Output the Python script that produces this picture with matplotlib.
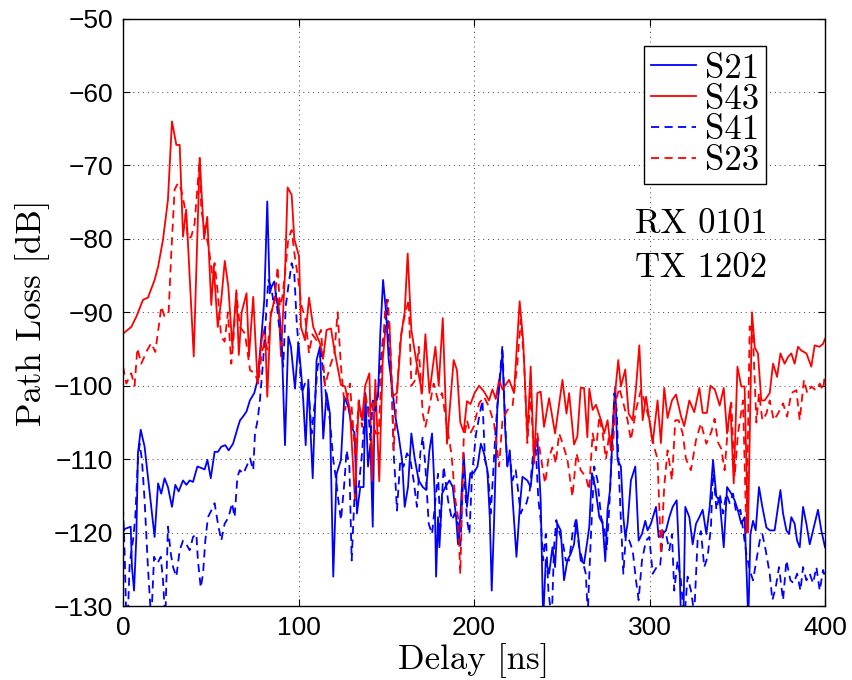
import matplotlib
matplotlib.use('Agg')
import matplotlib.pyplot as plt

# values (delay in ns, path loss in dB)
s21_t = [0, 1, 4.4, 5.1, 6.3, 7.6, 8.5, 10.1, 12.3, 14.6, 18, 20, 21.8, 23.7, 25.6, 27.9, 29.8, 31.7,
         34.2, 36.1, 38, 39.9, 42.4, 44.6, 46.5, 48.1, 50, 52.2, 54.1, 56, 58.3, 60.2, 62.7, 65.5,
         66.7, 68.4, 70.4, 72.3, 74.8, 76.7, 79, 80.5, 82.2, 83.6, 84.7, 86.2, 87.5, 89.1, 90.4,
         92.3, 94.2, 95.7, 98, 99.9, 101.4, 102.7, 104.1, 105.6, 107, 108.1, 110.3, 112.2, 114.1,
         116, 117.9, 119.8, 121.7, 124.2, 126.1, 128.4, 130.3, 132, 133.3, 135.2, 137.1, 138.1,
         139.6, 141, 142.3, 143.4, 145.3, 146.6, 148.2, 149.9, 151.4, 153.3, 155.2, 157.1, 159,
         160.5, 162.4, 164.3, 166.2, 168.5, 170.8, 172.7, 174.6, 176.1, 177.6, 178.4, 179.5, 180.3,
         181.8, 183.7, 186, 187.9, 189.8, 190.9, 192.2, 194.1, 196, 197.9, 199.8, 202, 203.9, 205.7,
         207.6, 209, 210.1, 211.4, 213.3, 214.7, 216.2, 217.7, 219, 220.4, 221.9, 224.2, 226.1,
         227.6, 230.4, 232.3, 234.2, 236.1, 238, 239.4, 240.9, 242.8, 244.7, 246.2, 247.5, 249.4,
         251.3, 253.2, 255.1, 257, 258.4, 260.8, 262.7, 264.6, 265.7, 267.2, 269.1, 271.4, 273.3,
         274.8, 276.1, 277.5, 279, 280.5, 281.8, 283.7, 285.1, 286.2, 287.5, 289.4, 291.9, 293.8,
         295.7, 297.6, 298.9, 300.8, 303.7, 305.2, 307.5, 309.4, 311.3, 313.2, 315.5, 317, 318,
         319.3, 320.4, 322.7, 324.6, 326.5, 328.4, 330.3, 332.4, 334.3, 336.2, 338.1, 340, 342.3,
         344.2, 346.6, 348.5, 350.4, 352.3, 354.2, 355.2, 356.3, 357.5, 359, 360.5, 362.4, 364.3,
         366.6, 368.5, 371.3, 372.7, 374.6, 376.1, 378, 379.5, 380.8, 382.7, 384.1, 385.6, 387.5,
         389.4, 391.3, 393.6, 396, 397.9, 400]
s21_db = [-120, -119.5, -119.2, -124.7, -127.9, -120.6, -109.2, -106, -108.3, -113.3, -120.6, -113.3,
          -114.7, -112.6, -113.8, -116.5, -113.5, -114.4, -112.9, -113.5, -112.9, -113.1, -111,
          -111.2, -111.4, -110.1, -112.6, -109, -109, -108.3, -108.1, -108.8, -107.9, -105.6,
          -104.7, -104.2, -103.5, -102, -101, -99.2, -92.9, -88.3, -74.9, -87.4, -86.5, -85.8,
          -88.3, -90.1, -93.8, -108.1, -93.3, -94.7, -100.4, -94.2, -97.9, -102, -108.1, -99.2,
          -106.9, -112.6, -96.5, -94.7, -107.2, -101, -103.8, -126, -112, -110.1, -101.5, -102.9,
          -105.6, -106.5, -117.4, -113.8, -113.8, -101, -111, -107.9, -119.2, -102, -101.5, -92.9,
          -85.6, -90, -96.5, -100.1, -104.2, -106.9, -110.1, -116.5, -113.8, -106.5, -109.9,
          -112.9, -113.8, -114.2, -108.8, -106.5, -114.7, -126, -117.9, -122, -114.7, -113.8,
          -112.9, -113.8, -117.9, -121.6, -117.9, -109.2, -116.5, -111.9, -111.9, -111, -107.9,
          -109.2, -111.5, -117.9, -127.9, -118.8, -102.9, -99.2, -95.6, -105.6, -111, -108.8,
          -115.1, -123.3, -116.5, -112.4, -112.9, -113.8, -109.2, -107.2, -115.6, -132, -123.7,
          -125.6, -122, -124.7, -118.8, -119.7, -126.5, -123.8, -122.9, -121.6, -118.3, -123.8,
          -124.2, -121.1, -119.2, -111.9, -113.8, -117.9, -118.8, -123.9, -116.9, -114.2, -106.5,
          -100.2, -110.1, -111, -117.9, -120.6, -118.8, -112.9, -111, -121.1, -120.2, -118.4,
          -119.7, -118.8, -116.5, -120.6, -120.2, -119.7, -117.9, -116.5, -115.6, -123.9, -132,
          -132, -116.5, -117.9, -121.6, -118.8, -117.9, -116.9, -120.2, -116.5, -110.1, -115.1,
          -115.6, -122, -113.8, -114.7, -115.6, -117, -118.8, -117.9, -124.7, -132, -120.2,
          -118.4, -119.7, -113.8, -116.5, -119.3, -119.7, -119.7, -117.4, -114.2, -117.4, -119.7,
          -120.2, -117.9, -118.8, -121.1, -122, -116.5, -118.8, -121.6, -119.3, -116.9, -119.7,
          -122]

s43_t = [0, 4.7, 7.6, 11.4, 14.2, 18, 20, 22.8, 25.6, 27.9, 30.4, 32.3, 34.2, 36, 37, 40.3, 43.7,
         46.2, 48, 50.3, 51.7, 54, 56, 58, 60, 62.3, 64.6, 66, 67.6, 70.4, 71.8, 74.2, 76.7, 79,
         80.9, 82.2, 84.1, 86.6, 88.5, 90, 92.3, 93.8, 96.1, 97.6, 100.3, 101.4, 103.7, 106, 108.4,
         112.2, 114.1, 116, 118.5, 120.8, 124.2, 126.5, 129.3, 132.2, 134.3, 136.2, 138, 140.4,
         141.9, 143.8, 146, 148, 149.5, 151.8, 153.3, 156.1, 158.6, 160.5, 162.2, 164.3, 167,
         170.4, 172.3, 174.6, 178, 179.9, 182.2, 184.6, 188.4, 190.3, 192.2, 194.1, 196, 198,
         200.3, 202.9, 205.7, 208.6, 210.5, 212.4, 214.3, 216.2, 220, 222.8, 226, 228, 230.4,
         232.3, 234.2, 236.1, 238, 239.9, 242.8, 246.2, 250.4, 252.7, 254.2, 257, 258.9, 260.8,
         262.7, 264.6, 265.7, 267.6, 269.5, 272.4, 274.2, 276.1, 278, 280, 282.2, 283.7, 286.2,
         288.1, 290.4, 292.3, 294.2, 296.1, 298, 299.9, 301.8, 304.6, 306.5, 308.4, 310.3, 312.8,
         315.1, 318, 319.8, 322.7, 325.5, 328.4, 330.3, 332.7, 334.7, 337.2, 340, 342.3, 344.2,
         346.1, 348, 350.1, 352.3, 354.2, 356.1, 358.4, 360, 361.8, 363.7, 365.6, 368.5, 370.4,
         372.7, 374.6, 377, 378.9, 380.8, 382.7, 384.6, 386.5, 389.4, 392.2, 394.1, 396.9, 398.9,
         400]
s43_db = [-92.9, -92, -90.6, -88.3, -88, -85.6, -83.8, -80.1, -74.7, -64, -67.2, -67.2, -79.7, -76,
          -80.5, -96, -69, -80, -77, -89, -83.8, -92, -88.3, -83, -86.5, -94.7, -87, -95.8, -90,
          -87.4, -96, -87.9, -99.7, -93.8, -92, -101.5, -90.6, -87.9, -88.3, -96, -84.7, -73, -74,
          -80, -82.4, -92, -93.8, -88, -92, -94.2, -96.2, -92.4, -92.2, -95.6, -99.9, -100.1,
          -103.3, -115.6, -102, -104.7, -100, -98.3, -112.9, -99.2, -113, -96.5, -92.4, -91.5,
          -101.5, -101, -92.9, -90, -82, -92.4, -96.5, -101, -93, -101, -94.7, -100, -90.8,
          -107.9, -96.5, -97.9, -105, -106.3, -102.1, -102.5, -101, -100, -100.8, -102, -100.5,
          -101.8, -99.2, -100.5, -99.2, -101, -88.5, -93.8, -107, -97.4, -110.6, -101, -100.8,
          -105.6, -101.7, -106.5, -99.2, -103.8, -101, -108, -106.9, -100.3, -100.3, -107, -100.4,
          -103.3, -102.6, -104.7, -106.5, -104.7, -108.8, -102, -96.5, -100.1, -97.8, -103.8,
          -104.7, -100.3, -94.5, -104.7, -101.5, -104.7, -107.8, -102, -107.8, -100.3, -104.4,
          -102, -101.2, -104.2, -105.5, -102, -103.6, -100.3, -103.7, -103.7, -100, -100.5,
          -102.7, -100.3, -106.5, -102.7, -113.3, -97.4, -100.1, -100.1, -120, -90, -94.8, -95.6,
          -102, -102, -101, -97, -98.8, -95.6, -97, -96.1, -95.6, -97, -94.7, -95.2, -95.6, -97.4,
          -94.5, -94.7, -94.3, -93.6]

s41_t = [0, 0.9, 1.9, 2.9, 3.8, 5.7, 7, 8.5, 9.5, 10.8, 12.3, 14.2, 16.1, 17.7, 19.6, 21.5, 22.8,
         24.1, 25.6, 27.2, 28.5, 30.4, 32.3, 34.2, 36.1, 38, 39.9, 41.8, 42.7, 44.3, 45.6, 46.9,
         48.4, 50.3, 52.2, 54.1, 56, 57.9, 60.2, 62.1, 63.6, 65.2, 66.5, 68.5, 70.4, 72.4, 74.2,
         75.2, 76.7, 78, 79.9, 81.8, 82.8, 84.3, 85.6, 87, 88.5, 90, 91.3, 92.7, 94.2, 96.1, 97.6,
         98.9, 100.3, 101.8, 103.7, 105.6, 107.5, 109.4, 110.9, 112.8, 114.7, 116, 117.9, 119.8,
         121.2, 122.7, 124.2, 126.1, 127.4, 129, 130.3, 131.8, 132.8, 134.3, 136.2, 137.7, 139.6,
         141, 142.3, 143.8, 145.3, 146.6, 148, 149.5, 150.4, 151.8, 153.3, 154.2, 155.2, 156.1,
         158, 159.9, 161.8, 163.7, 165.6, 167.5, 169.4, 170.8, 172.3, 174.2, 176.1, 178, 179.5,
         180.8, 182.7, 185.2, 187.5, 189, 190.9, 192.2, 194.1, 196, 197.4, 198.9, 201.2, 203.3,
         204.8, 206.3, 208.2, 209.5, 210.9, 212.4, 213.9, 215.2, 216.2, 217.7, 219, 220.4, 221.9,
         223.8, 225.3, 226.6, 228.2, 229.9, 231.8, 233.7, 235.2, 236.7, 238, 239.4, 240.9, 242.4,
         244.3, 245.6, 246.9, 248.9, 250.8, 252.3, 254.2, 256.1, 258, 259.9, 261.8, 263.7, 264.8,
         266.5, 268.5, 270.4, 272.4, 274.2, 275.6, 277.1, 278.6, 280, 281.3, 282.4, 283.7, 285.1,
         286.6, 288.5, 290.4, 292.3, 293.8, 295.7, 298, 299.9, 301.8, 304.1, 306, 307.9, 309.4,
         311.3, 312.8, 314.1, 316, 317.9, 319.8, 321.7, 323.6, 325.5, 327.4, 329.3, 331.2, 333.1,
         335, 336.2, 338.1, 340, 341.9, 343.8, 345.7, 347.6, 349.5, 351.8, 353.7, 355.2, 357.1,
         359, 360.9, 362.8, 364.3, 366.2, 368.5, 370, 371.9, 373.8, 376.1, 378, 380.3, 382.2,
         384.1, 386, 387.5, 389.4, 391.3, 393.2, 395.1, 397, 398.9, 400]
s41_db = [-116.5, -122.5, -132, -130.5, -124.2, -121.1, -117.9, -110.1, -107.9, -110.1, -115.6, -124.7,
          -132, -123.3, -124.2, -123.3, -126.5, -132, -119.2, -122.8, -124.7, -126, -122.4,
          -121.1, -121.6, -122.4, -120.6, -120.2, -123.8, -127.5, -125.6, -121.1, -117.9, -117,
          -116, -118.8, -121.1, -118.8, -117.9, -116, -117.9, -112.4, -111.5, -112, -111, -109.9,
          -111.5, -106.5, -104.7, -102, -96.5, -89.2, -85.6, -86.5, -88.3, -87.4, -91, -93.8,
          -97.4, -89.2, -86.5, -83.3, -84.7, -91, -95.6, -101, -99.7, -100.1, -106.5, -102,
          -97.4, -95.6, -99.2, -102, -104.7, -110.1, -112.4, -115.6, -118.3, -113.3, -108.8,
          -111, -123.8, -115.6, -113.3, -113.8, -109.2, -103.8, -102.9, -107.4, -102, -103.4,
          -101, -97.4, -93.8, -92, -88.3, -94.7, -101, -109.2, -112.9, -117, -110.1, -111,
          -109.2, -110.1, -112.9, -116.5, -109.2, -106.9, -111, -118.8, -120.2, -115.6, -112,
          -119.3, -111, -115.6, -118.3, -117.4, -118.8, -122, -111, -118.3, -120.2, -112, -106.5,
          -103.8, -102, -110.1, -112.4, -117.4, -112, -105.6, -101, -97.4, -94.5, -104.7, -111,
          -109.6, -112.9, -111.5, -114.7, -117.4, -116.5, -116, -114.2, -109.2, -108.7, -115.6,
          -118.3, -123.8, -120.2, -127.9, -132, -122, -118.3, -120.2, -121.6, -123.8, -123.8,
          -120.2, -118.3, -122, -123.8, -125.6, -131, -121.1, -111, -112.9, -117.9, -119.3,
          -122.4, -116.5, -108.7, -101, -103.3, -111, -118.3, -125.6, -120.2, -121.1, -122.4,
          -126.5, -129.2, -123.8, -121.1, -120.6, -125.6, -124.7, -124.7, -119.8, -120.2, -122.4,
          -120.2, -127.9, -123.8, -126.5, -132, -126, -127.9, -131, -121.1, -119.8, -124.7,
          -123.3, -119.3, -111, -116.9, -114.7, -117.4, -114.7, -116, -114.7, -117.4, -116.9,
          -120.2, -122.9, -125.1, -126.5, -123.8, -121.1, -120.2, -122.4, -125.6, -129.2, -127.5,
          -124.7, -129.2, -123.8, -126.5, -126.9, -125.6, -127.9, -124.7, -126.5, -125.6, -126.9,
          -124.7, -127.9, -125.1, -126]

s23_t = [0, 1.9, 4.7, 6.6, 8.2, 10.4, 13.9, 16.1, 18.4, 20.9, 21.8, 23.7, 26, 27.5, 29.4, 31.3, 33.2,
         35.1, 37, 38.9, 40.8, 42.4, 43.7, 44.6, 46.9, 48.8, 50.7, 52.2, 54, 55.9, 57.9, 59.8,
         61.7, 62.8, 64.6, 66.6, 69.5, 72.4, 75.2, 77.1, 79, 80.9, 82.4, 84.3, 86.2, 88.1, 89.4,
         90.8, 92.3, 94.2, 96.1, 97.9, 99.9, 101.8, 104, 106, 107.9, 110.3, 112.8, 115.1, 117.9,
         120.4, 122.3, 124.2, 126.5, 129.3, 132.2, 134.4, 136.2, 138.1, 140, 141.9, 143.8, 145.7,
         147.6, 149.5, 151, 152.9, 154.2, 156.1, 158, 160, 162.8, 164.3, 166.6, 168.5, 170.8,
         172.3, 174.6, 177, 179.5, 181.8, 184.6, 187.1, 189.4, 190.9, 192.2, 194.1, 196, 197.9,
         199.8, 202.9, 205.7, 208.6, 211.4, 214.3, 216.2, 219, 221.9, 224.7, 226.6, 228.5, 230.4,
         232.3, 234.2, 236.1, 238, 240.5, 242.4, 244.7, 246.6, 248.5, 250.4, 253.2, 256.1, 258.4,
         260.8, 263.7, 265.6, 267.6, 269.5, 271.4, 273.3, 275.2, 277.1, 279, 280.9, 282.8, 284.7,
         287.5, 289.4, 292.3, 295.1, 297, 299.9, 302.7, 304.6, 306.5, 308.4, 310.3, 312.8, 314.7,
         316.6, 318.9, 320.8, 323.6, 326.5, 329.3, 332.4, 335.2, 337.1, 339, 340.9, 342.8, 344.7,
         346.6, 348.5, 350.4, 353.3, 355.2, 357.1, 359, 360.9, 362.4, 364.3, 366.6, 368.5, 370.8,
         373.2, 376.1, 378.4, 380.8, 383.7, 385.6, 388, 389.9, 392.2, 394.7, 397, 398.9, 400]
s23_db = [-97.4, -99.7, -98.3, -100, -94.9, -97, -95.1, -94.2, -95.4, -91, -89.2, -90.6, -90, -82,
          -73.3, -72.4, -73.3, -75.6, -80, -79.7, -77.9, -72.9, -69, -76, -79.2, -81, -84.7, -83.3,
          -87.4, -93.3, -94, -90, -97, -94.2, -87.4, -92, -92.9, -97.9, -98.3, -99.7, -95.6,
          -93.8, -95.1, -90, -88.8, -83.8, -89.2, -87.9, -84.7, -80, -78.8, -82.4, -85.6, -89.2,
          -91, -95.6, -93, -93.8, -92.4, -100, -97.4, -95.6, -90, -97.4, -103.3, -99.7, -109.2,
          -102, -105.6, -101, -104.2, -102, -106.5, -106.5, -96.5, -89.2, -88.3, -97.4, -108.8,
          -101, -93.8, -91, -88.3, -100, -99.2, -94.7, -103.8, -105.6, -102.9, -99.7, -102, -101,
          -105.6, -109.2, -115.6, -117.9, -125.6, -107.4, -104.7, -106.5, -105.6, -102.4, -101.5,
          -102.9, -105.1, -111, -104.7, -103.3, -102.9, -97, -91, -96.5, -107.8, -101, -110,
          -106.5, -109.6, -113.3, -110, -108.4, -110.6, -106.5, -107.8, -110, -115.1, -109.2,
          -111.5, -112.4, -114.2, -106.5, -108.8, -104.2, -106.5, -110, -106.5, -108.8, -102,
          -100.3, -102, -104.7, -107.4, -103.3, -100.6, -102, -104.7, -108.4, -110, -122.9,
          -113.7, -108.8, -112.9, -104.7, -104.7, -106.5, -110, -111.5, -107.4, -105.1, -107.9,
          -106.3, -104.5, -107.7, -108.6, -111.5, -105.6, -102.3, -112.4, -106.5, -102, -120,
          -91.9, -93.6, -105, -101, -104.7, -103.8, -102, -104.7, -103.8, -102.4, -104.2, -101,
          -100.6, -104.7, -99.2, -101, -100.1, -100.6, -99.7, -100.6, -98.3]

series = [
    (s21_t, s21_db, 'S21', 'b', '-'),
    (s43_t, s43_db, 'S43', 'r', '-'),
    (s41_t, s41_db, 'S41', 'b', '--'),
    (s23_t, s23_db, 'S23', 'r', '--'),
]

serif = 'cmr10'

fig = plt.figure(figsize=(8.52, 6.8), dpi=100)
ax = fig.add_axes([123 / 852, 1 - 606 / 680, (825 - 123) / 852, (606 - 18.6) / 680])

for t, db, name, color, ls in series:
    if ls == '--':
        ax.plot(t, db, color=color, lw=1.3, linestyle='--', dashes=(4.5, 3), label=name)
    else:
        ax.plot(t, db, color=color, lw=1.3, label=name)

ax.set_xlim(0, 400)
ax.set_ylim(-130, -50)
ax.set_xticks(range(0, 401, 100))
ax.set_yticks(range(-130, -49, 10))
ax.grid(True, color='0.25', linestyle=(0, (1, 4)), linewidth=0.7)
ax.tick_params(direction='in', length=5, top=True, right=True, labelsize=19, pad=7, width=0.8)
for lab in ax.get_xticklabels() + ax.get_yticklabels():
    lab.set_family('Liberation Sans')
for sp in ax.spines.values():
    sp.set_linewidth(1.0)

ax.set_xlabel('Delay [ns]', family=serif, fontsize=25, labelpad=2)
ax.set_ylabel('Path Loss [dB]', family=serif, fontsize=25, labelpad=3)

ax.text(292, -79.2, 'RX 0101', family=serif, fontsize=25, va='baseline', ha='left')
ax.text(292, -85.2, 'TX 1202', family=serif, fontsize=25, va='baseline', ha='left')

leg = ax.legend(loc='upper right', bbox_to_anchor=(766 / 852, 1 - 46 / 680),
                bbox_transform=fig.transFigure, prop={'family': serif, 'size': 25},
                fancybox=False, edgecolor='k', framealpha=1, borderpad=0.2,
                labelspacing=-0.02, handlelength=1.3, handletextpad=0.25, borderaxespad=0)
leg.get_frame().set_linewidth(1.0)

fig.savefig('out.png', dpi=100)
